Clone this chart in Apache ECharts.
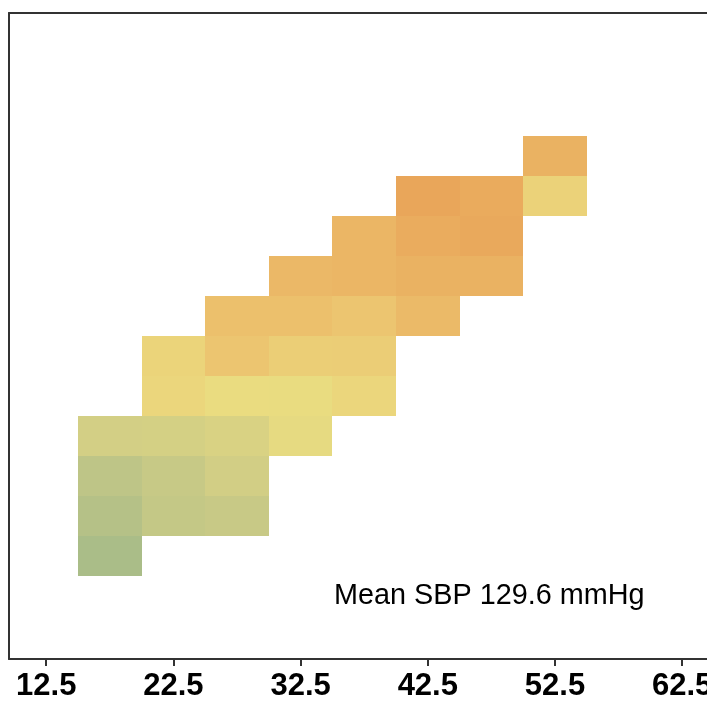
<!DOCTYPE html>
<html>
<head>
<meta charset="utf-8">
<script src="https://cdn.jsdelivr.net/npm/echarts@6/dist/echarts.min.js"></script>
<style>
  html, body { margin: 0; padding: 0; background: #ffffff; }
  #chart { width: 707px; height: 701px; }
</style>
</head>
<body>
<div id="chart"></div>
<script>
// Bin lower edges on the x axis (each bin is 5 wide)
const xBinWidth = 5;
// Row index of each horizontal band (bottom = 0), one unit tall
const rowHeight = 1;

// Cells: x bin start, row, mean SBP in the cell
const cellX = [
  15,
  15, 20, 25,
  15, 20, 25,
  15, 20, 25, 30,
  20, 25, 30, 35,
  20, 25, 30, 35,
  25, 30, 35, 40,
  30, 35, 40, 45,
  35, 40, 45,
  40, 45, 50,
  50
];
const cellRow = [
  0,
  1, 1, 1,
  2, 2, 2,
  3, 3, 3, 3,
  4, 4, 4, 4,
  5, 5, 5, 5,
  6, 6, 6, 6,
  7, 7, 7, 7,
  8, 8, 8,
  9, 9, 9,
  10
];
const cellSBP = [
  110.3,
  112.5, 115.8, 116.7,
  114.5, 116.4, 119.0,
  119.2, 119.5, 120.8, 124.0,
  127.0, 125.0, 124.8, 127.0,
  127.6, 132.5, 129.6, 129.9,
  133.6, 133.6, 132.5, 135.0,
  135.4, 135.9, 136.8, 136.8,
  135.9, 138.2, 138.9,
  139.5, 138.5, 128.3,
  136.8
];

// Tick labels along the x axis
const xTicks = [12.5, 22.5, 32.5, 42.5, 52.5, 62.5];

// Colour ramp for mean SBP
const sbpMin = 110, sbpMax = 140;
const sbpColors = ['#a9bc88', '#cccb86', '#eadc80', '#ecc570', '#e9a458'];

const annotation = 'Mean SBP 129.6 mmHg';

const data = cellX.map((x, i) => [x, cellRow[i], cellSBP[i]]);

const chart = echarts.init(document.getElementById('chart'), null, { renderer: 'canvas' });

const xMin = 9.575, xMax = 64.45;
const frameLine = { show: true, onZero: false, lineStyle: { color: '#333333', width: 2 } };

chart.setOption({
  animation: false,
  backgroundColor: '#ffffff',
  grid: { left: 9, top: 13, right: 0, bottom: 42, show: false, outerBoundsMode: 'none', containLabel: false },
  xAxis: [{
    type: 'value',
    position: 'bottom',
    min: xMin,
    max: xMax,
    axisLine: frameLine,
    axisTick: { show: true, customValues: xTicks, length: 7, lineStyle: { color: '#333333', width: 2 } },
    axisLabel: {
      customValues: xTicks,
      formatter: v => v.toFixed(1),
      color: '#000000', fontSize: 31, fontWeight: 'bold',
      fontFamily: 'Liberation Sans, Arial, sans-serif', margin: 12,
      hideOverlap: false
    },
    splitLine: { show: false }
  }, {
    // top edge of the frame
    type: 'value',
    position: 'top',
    min: xMin,
    max: xMax,
    axisLine: frameLine,
    axisTick: { show: false },
    axisLabel: { show: false },
    splitLine: { show: false }
  }],
  yAxis: {
    type: 'value',
    min: -2.075,
    max: 14.075,
    axisLine: frameLine,
    axisTick: { show: false },
    axisLabel: { show: false },
    splitLine: { show: false }
  },
  visualMap: {
    type: 'continuous',
    show: false,
    dimension: 2,
    min: sbpMin,
    max: sbpMax,
    inRange: { color: sbpColors }
  },
  series: [{
    type: 'custom',
    xAxisIndex: 0,
    data: data,
    encode: { x: 0, y: 1 },
    renderItem: function (params, api) {
      const x0 = api.value(0), r = api.value(1);
      // snap cell edges to whole pixels so neighbouring cells meet without seams
      const p0 = api.coord([x0, r + rowHeight]).map(Math.round);
      const p1 = api.coord([x0 + xBinWidth, r]).map(Math.round);
      return {
        type: 'rect',
        shape: { x: p0[0], y: p0[1], width: p1[0] - p0[0], height: p1[1] - p0[1] },
        style: { fill: api.visual('color') }
      };
    }
  }],
  graphic: [{
    type: 'text',
    left: 334,
    top: 581.5,
    style: {
      text: annotation,
      fill: '#000000',
      font: '28.8px "Liberation Sans", Arial, sans-serif'
    }
  }]
});
</script>
</body>
</html>
